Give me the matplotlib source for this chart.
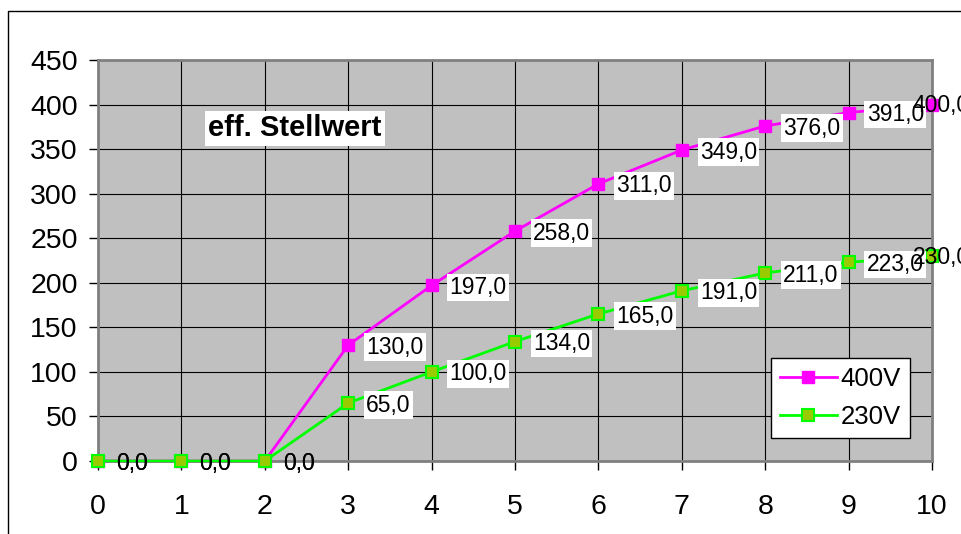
import matplotlib
matplotlib.use("Agg")
import matplotlib.pyplot as plt
from matplotlib.lines import Line2D

plt.rcParams['font.family'] = ['Liberation Sans', 'DejaVu Sans']

# data
x_steps = [0, 1, 2, 3, 4, 5, 6, 7, 8, 9, 10]
v400 = [0, 0, 0, 130, 197, 258, 311, 349, 376, 391, 400]
v230 = [0, 0, 0, 65, 100, 134, 165, 191, 211, 223, 230]
series_names = ['400V', '230V']
title_text = 'eff. Stellwert'

fig = plt.figure(figsize=(9.61, 5.34), dpi=100)
ax = fig.add_axes([98 / 961, 73 / 534, 834 / 961, 401 / 534])
ax.set_facecolor('#C0C0C0')

ax.plot(x_steps, v400, color='#FF00FF', lw=2, marker='s', ms=8,
        mfc='#FF00FF', mec='#FF00FF', label=series_names[0], zorder=4, clip_on=False)
ax.plot(x_steps, v230, color='#00FF00', lw=2, marker='s', ms=8,
        mfc='#99CC00', mec='#00FF00', mew=1.5, label=series_names[1], zorder=4, clip_on=False)

# data labels (last point's label sits left of the marker, zeros have no box)
for vals in (v400, v230):
    for xi, yi in zip(x_steps, vals):
        lbl = f'{yi:.1f}'.replace('.', ',')
        if xi == x_steps[-1]:
            ax.annotate(lbl, (xi, yi), xytext=(-14, -1), textcoords='offset points',
                        ha='left', va='center', fontsize=16.5, zorder=6, annotation_clip=False)
        elif yi == 0:
            ax.annotate(lbl, (xi, yi), xytext=(13, -1.5), textcoords='offset points',
                        ha='left', va='center', fontsize=16.5, zorder=6)
        else:
            ax.annotate(lbl, (xi, yi), xytext=(13, -1.5), textcoords='offset points',
                        ha='left', va='center', fontsize=16.5, zorder=5,
                        bbox=dict(boxstyle='square,pad=0.1', fc='white', ec='none'))

ax.set_xlim(0, 10)
ax.set_ylim(0, 450)
ax.set_xticks(range(0, 11))
ax.set_yticks(range(0, 451, 50))
ax.grid(True, color='black', lw=0.8)
ax.set_axisbelow(True)
for sp in ax.spines.values():
    sp.set_color('#808080')
    sp.set_linewidth(2)
ax.tick_params(axis='both', labelsize=20.5, length=6.5, width=1, color='black', direction='out')
ax.tick_params(axis='y', pad=8)
ax.tick_params(axis='x', pad=17)

# title box inside plot area
fig.text(208 / 961, 1 - 128 / 534, title_text, fontsize=21, fontweight='bold',
         ha='left', va='center', bbox=dict(boxstyle='square,pad=0.12', fc='white', ec='none'))

leg = ax.legend(loc='upper left', bbox_to_anchor=(771 / 961, 1 - 358 / 534),
                bbox_transform=fig.transFigure, fontsize=18.5, fancybox=False, framealpha=1,
                edgecolor='black', borderpad=0.35, handlelength=2.2, handletextpad=0.15,
                labelspacing=0.55, borderaxespad=0)
leg.get_frame().set_linewidth(1)

# chart area border (top and left edges visible)
fig.add_artist(Line2D([8 / 961, 8 / 961, 1], [0, 1 - 11 / 534, 1 - 11 / 534],
                      transform=fig.transFigure, color='black', lw=1))

fig.savefig('out.png', dpi=100)
